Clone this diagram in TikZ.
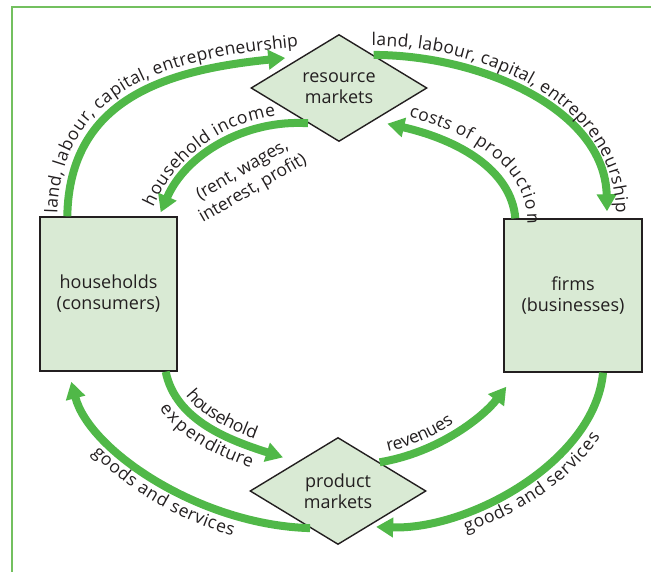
\documentclass[tikz,border=0pt]{standalone}
\usepackage{fontspec}
\setmainfont{Open Sans}
\usetikzlibrary{shapes.geometric,arrows.meta,decorations.text,calc}
\definecolor{flow}{RGB}{80,184,72}
\definecolor{boxfill}{RGB}{217,234,212}
\definecolor{framec}{RGB}{115,192,95}
\definecolor{txt}{RGB}{35,31,32}
\newcommand\lblfont{\fontsize{17.5}{20}\selectfont\color{txt}}
\begin{document}
\begin{tikzpicture}[x=1pt,y=-1pt,
  agent/.style={draw=txt, line width=1.4pt, fill=boxfill, minimum width=137pt, minimum height=154pt, inner sep=0pt, align=center, text=txt, font=\fontsize{18}{21}\selectfont},
  market/.style={diamond, draw=txt, line width=1.4pt, fill=boxfill, minimum width=176pt, minimum height=107pt, inner sep=0pt, align=center, text=txt, font=\fontsize{18}{21}\selectfont},
  flowarrow/.style={draw=flow, line width=8pt, -{Triangle[length=17pt,width=19pt]}},
  lbl/.style 2 args={decorate, decoration={text along path, text={|\lblfont|#2}, text align=center, raise=#1}},
  plainlbl/.style={text=txt, font=\fontsize{17.5}{21}\selectfont, align=center, inner sep=0pt},
]
\useasboundingbox (0,0) rectangle (651,572);
\draw[framec, line width=1.1pt] (12,572) -- (12,7) -- (651,7);

\node[agent] (hh) at (108.5,294) {households\\(consumers)};
\node[agent, minimum width=138pt, minimum height=153pt] (fm) at (573,295.5) {firms\\(businesses)};
\node[market] (rm) at (339,88) {resource\\markets};
\node[market] (pm) at (338,491) {product\\markets};

\coordinate (a1s) at ([xshift=28pt]hh.north west);
\coordinate (a1e) at ([xshift=35pt,yshift=30pt]rm.west);
\coordinate (a2s) at ($(rm.north)!0.39!(rm.east)$);
\coordinate (a2e) at ([xshift=34pt,yshift=7pt]fm.north);
\coordinate (a3s) at ($(rm.west)!0.65!(rm.south)$);
\coordinate (a3e) at ([xshift=-17pt,yshift=4pt]hh.north east);
\coordinate (a4s) at ([xshift=12pt]fm.north west);
\coordinate (a4e) at ([yshift=-11pt]$(rm.south)!0.545!(rm.east)$);
\coordinate (a5s) at ([xshift=-12pt]hh.south east);
\coordinate (a5e) at ([yshift=13pt]$(pm.west)!0.38!(pm.north)$);
\coordinate (a6s) at ($(pm.north)!0.47!(pm.east)$);
\coordinate (a6e) at ([xshift=3pt,yshift=-14pt]fm.south west);
\coordinate (a7s) at ([xshift=30pt]fm.south);
\coordinate (a7e) at ([yshift=-5pt]$(pm.south)!0.43!(pm.east)$);
\coordinate (a8s) at ($(pm.west)!0.685!(pm.south)$);
\coordinate (a8e) at ([xshift=32pt,yshift=-10pt]hh.south west);

\draw[flowarrow] (a1s) .. controls +(2,-117) and +(-120,12) .. (a1e);
\draw[flowarrow] (a2s) .. controls +(107,0) and +(-2,-102) .. (a2e);
\draw[flowarrow] (a3s) .. controls +(-63,-4) and +(25,-58) .. (a3e);
\draw[flowarrow] (a4s) .. controls +(-4,-49) and +(70,16) .. (a4e);
\draw[flowarrow] (a5s) .. controls +(10,49) and +(-53,-17) .. (a5e);
\draw[flowarrow] (a6s) .. controls +(60,-10) and +(-22,29) .. (a6e);
\draw[flowarrow] (a7s) .. controls +(-8,88) and +(94,3) .. (a7e);
\draw[flowarrow] (a8s) .. controls +(-110,-3) and +(18,69) .. (a8e);

\path[lbl={10pt}{land, labour, capital, entrepreneurship}] ([yshift=-14pt]a1s) -- (a1s) .. controls +(2,-117) and +(-120,12) .. (a1e) -- ++(30,-3);
\path[lbl={9pt}{land, labour, capital, entrepreneurship}] ([xshift=-30pt]a2s) -- (a2s) .. controls +(107,0) and +(-2,-102) .. (a2e) -- ++(1,30);
\path[lbl={9pt}{household income}] ([xshift=-12pt,yshift=-27pt]a3e) -- (a3e) .. controls +(25,-58) and +(-63,-4) .. (a3s);
\node[plainlbl, rotate=30] (rentlbl) at (248,180) {(rent, wages,\\interest, profit)};
\path[lbl={12pt}{costs of production}] (a4e) .. controls +(70,16) and +(-4,-49) .. (a4s) -- ++(1,25);
\path[lbl={8.5pt}{household}] (a5s) .. controls +(10,49) and +(-53,-17) .. (a5e);
\path[lbl={-20pt}{expenditure}] (a5s) .. controls +(10,49) and +(-53,-17) .. (a5e);
\path[lbl={9pt}{revenues}] ([xshift=-54pt,yshift=-9pt]a6s) -- (a6s) .. controls +(60,-10) and +(-22,29) .. (a6e);
\path[lbl={-20pt}{goods and services}] (a7e) .. controls +(94,3) and +(-8,88) .. (a7s) -- ++(3,-28);
\path[lbl={-20pt}{goods and services}] ([xshift=-1pt,yshift=5pt]a8e) -- (a8e) .. controls +(18,69) and +(-110,-3) .. (a8s);
\end{tikzpicture}
\end{document}
